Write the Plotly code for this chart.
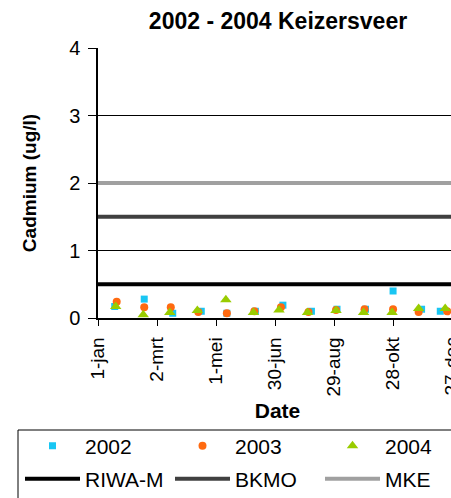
import plotly.graph_objects as go

# Day-of-year positions (0 = 1 January)
days_2002 = [17, 47, 76, 105, 131, 160, 188, 217, 243, 272, 300, 329, 348]
cd_2002 = [0.17, 0.28, 0.07, 0.10, 0.07, 0.10, 0.19, 0.10, 0.13, 0.13, 0.40, 0.13, 0.10]

days_2003 = [19, 47, 74, 102, 131, 159, 186, 214, 242, 271, 300, 326, 355]
cd_2003 = [0.24, 0.16, 0.16, 0.09, 0.07, 0.10, 0.16, 0.09, 0.12, 0.13, 0.13, 0.09, 0.10]

days_2004 = [18, 46, 73, 101, 130, 158, 184, 213, 242, 270, 299, 326, 353]
cd_2004 = [0.17, 0.05, 0.08, 0.11, 0.27, 0.08, 0.12, 0.08, 0.11, 0.08, 0.08, 0.14, 0.14]

norm_names = ["RIWA-M", "BKMO", "MKE"]
norm_values = [0.5, 1.5, 2.0]
norm_colors = ["#000000", "#404040", "#A0A0A0"]

tick_days = [0, 60, 120, 180, 240, 300, 360]
tick_labels = ["1-jan", "2-mrt", "1-mei", "30-jun", "29-aug", "28-okt", "27-dec"]
x_span = [0, 366]

FONT = "Liberation Sans, Arial, sans-serif"
W, H = 460, 498
ML, MR, MT, MB = 98, 3, 48, 180
PW, PH = W - ML - MR, H - MT - MB


def px_x(px):
    return (px - ML) / PW


def px_y(py):
    return (H - MB - py) / PH


fig = go.Figure()
fig.add_trace(go.Scatter(x=days_2002, y=cd_2002, mode="markers", name="2002", legend="legend",
                         marker=dict(symbol="square", size=7, color="#19C6F3")))
fig.add_trace(go.Scatter(x=days_2003, y=cd_2003, mode="markers", name="2003", legend="legend",
                         marker=dict(symbol="circle", size=8, color="#FF6A10")))
fig.add_trace(go.Scatter(x=days_2004, y=cd_2004, mode="markers", name="2004", legend="legend",
                         marker=dict(symbol="triangle-up", size=10, color="#99CC00")))
for n, v, c in zip(norm_names, norm_values, norm_colors):
    fig.add_trace(go.Scatter(x=x_span, y=[v, v], mode="lines", name=n, legend="legend2",
                             line=dict(color=c, width=4)))

leg_common = dict(orientation="h", xanchor="left", yanchor="middle",
                  borderwidth=0, bgcolor="rgba(0,0,0,0)", entrywidth=80, itemwidth=55,
                  font=dict(size=21), traceorder="normal")

fig.update_layout(
    width=W, height=H,
    margin=dict(l=ML, r=MR, t=MT, b=MB, autoexpand=False),
    paper_bgcolor="white", plot_bgcolor="white",
    font=dict(family=FONT, size=20, color="black"),
    title=dict(text="<b>2002 - 2004 Keizersveer</b>", x=278 / W, xanchor="center",
               y=1 - 21 / H, yanchor="middle", font=dict(size=23)),
    showlegend=True,
    legend=dict(x=px_x(20), y=px_y(446), **leg_common),
    legend2=dict(x=px_x(20), y=px_y(479), **leg_common),
    shapes=[dict(type="rect", xref="paper", yref="paper",
                 x0=px_x(18), x1=px_x(470), y0=px_y(430), y1=px_y(520),
                 line=dict(color="black", width=1), fillcolor="rgba(0,0,0,0)", layer="below")],
)
fig.update_xaxes(range=[0, 365], tickmode="array", tickvals=tick_days, ticktext=tick_labels,
                 tickangle=-90, ticks="outside", ticklen=6, tickcolor="black",
                 showline=True, linecolor="black", linewidth=1.5, showgrid=False,
                 zeroline=False, title=dict(text="<b>Date</b>", standoff=8, font=dict(size=21)),
                 tickfont=dict(size=19), ticklabelstandoff=4, ticklabeloverflow="allow")
fig.update_yaxes(range=[0, 4], tickvals=[0, 1, 2, 3, 4], ticks="outside", ticklen=8,
                 tickcolor="black", showline=True, linecolor="black", linewidth=1.5,
                 showgrid=True, gridcolor="black", gridwidth=1, zeroline=False,
                 title=dict(text="<b>Cadmium (ug/l)</b>", standoff=27, font=dict(size=19)),
                 tickfont=dict(size=20), ticklabelstandoff=4)

fig.write_html("out.html", config={"displayModeBar": False},
               post_script="document.body.style.margin='0';document.body.style.overflow='hidden';")
